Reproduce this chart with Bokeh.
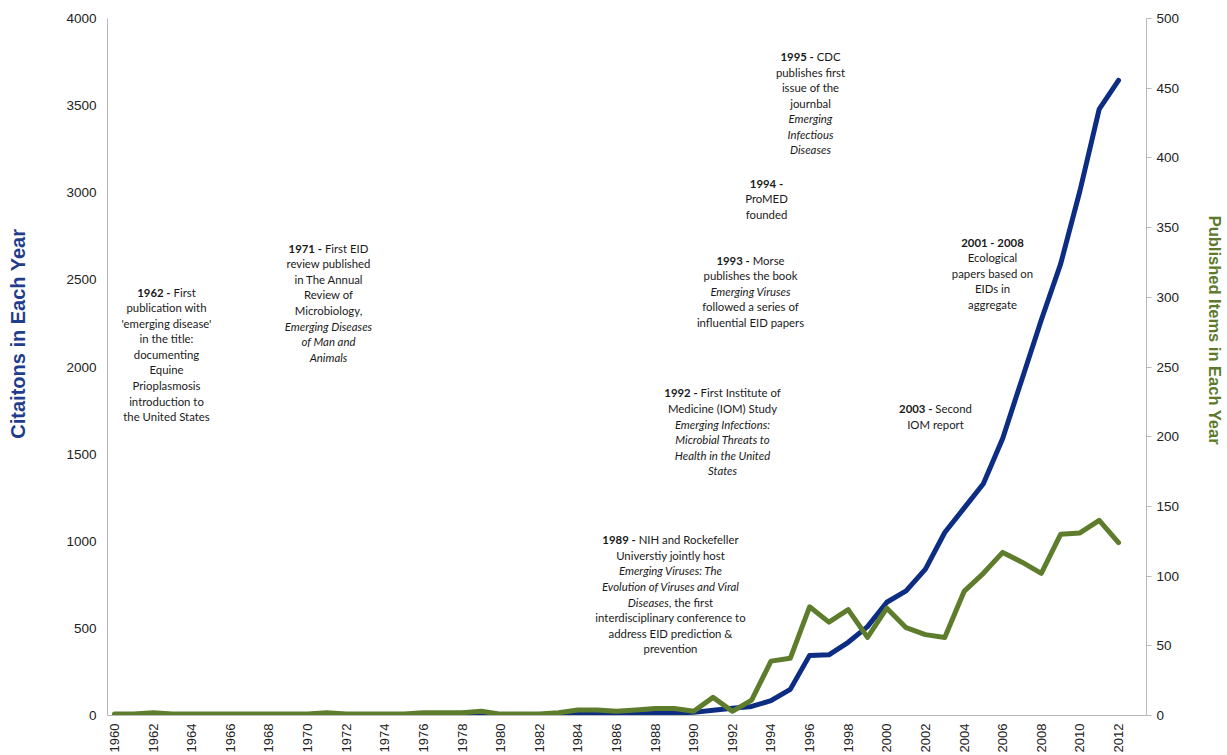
import glob, os, math
from bokeh.plotting import figure
from bokeh.models import Range1d, LinearAxis, FixedTicker, ColumnDataSource
from bokeh.core.properties import value
from bokeh.embed import file_html
from bokeh.resources import INLINE

# ---------------- data ----------------
years = list(range(1960, 2013))
citations = [1, 1, 2, 1, 1, 1, 2, 1, 1, 1,
             1, 2, 1, 1, 1, 2, 2, 2, 3, 2,
             3, 3, 5, 4, 6, 8, 8, 10, 12, 14,
             18, 30, 42, 52, 85, 150, 345, 348, 420, 510,
             650, 715, 840, 1050, 1190, 1330, 1590, 1930, 2270, 2590,
             3010, 3480, 3645]
published = [1, 1, 2, 1, 1, 1, 1, 1, 1, 1,
             1, 2, 1, 1, 1, 1, 2, 2, 2, 3,
             1, 1, 1, 2, 4, 4, 3, 4, 5, 5,
             3, 13, 3, 11, 39, 41, 78, 67, 76, 56,
             77, 63, 58, 56, 89, 102, 117, 110, 102, 130,
             131, 140, 124]
x_ticks = list(range(1960, 2013, 2))
left_ticks = [0, 500, 1000, 1500, 2000, 2500, 3000, 3500, 4000]
right_ticks = [0, 50, 100, 150, 200, 250, 300, 350, 400, 450, 500]
left_title = "Citaitons in Each Year"
right_title = "Published Items in Each Year"

# annotation blocks: (center px x, first line px y, lines of segments (text, style))
B, N, I = "bold", "normal", "italic"
annotations = [
    (166, 292, [[("1962 -", B), (" First", N)], [("publication with", N)],
                [("'emerging disease'", N)], [("in the title:", N)], [("documenting", N)],
                [("Equine", N)], [("Prioplasmosis", N)], [("introduction to", N)],
                [("the United States", N)]]),
    (328, 248, [[("1971 -", B), (" First EID", N)], [("review published", N)],
                [("in The Annual", N)], [("Review of", N)], [("Microbiology,", N)],
                [("Emerging Diseases", I)], [("of Man and", I)], [("Animals", I)]]),
    (670, 540, [[("1989 -", B), (" NIH and Rockefeller", N)], [("Universtiy jointly host", N)],
                [("Emerging Viruses: The", I)], [("Evolution of Viruses and Viral", I)],
                [("Diseases", I), (", the first", N)], [("interdisciplinary conference to", N)],
                [("address EID prediction &", N)], [("prevention", N)]]),
    (722, 393, [[("1992 -", B), (" First Institute of", N)], [("Medicine (IOM) Study", N)],
                [("Emerging Infections:", I)], [("Microbial Threats to", I)],
                [("Health in the United", I)], [("States", I)]]),
    (750, 260, [[("1993 -", B), (" Morse", N)], [("publishes the book", N)],
                [("Emerging Viruses", I)], [("followed a series of", N)],
                [("influential EID papers", N)]]),
    (766, 183, [[("1994 -", B)], [("ProMED", N)], [("founded", N)]]),
    (810, 56, [[("1995 -", B), (" CDC", N)], [("publishes first", N)], [("issue of the", N)],
               [("journbal", N)], [("Emerging", I)], [("Infectious", I)], [("Diseases", I)]]),
    (992, 242, [[("2001 - 2008", B)], [("Ecological", N)], [("papers based on", N)],
                [("EIDs in", N)], [("aggregate", N)]]),
    (935, 409, [[("2003 -", B), (" Second", N)], [("IOM report", N)]]),
]

# ---------------- layout ----------------
W, H = 1227, 755
BL, BR, BT, BB = 107, 81, 18, 39
FRAME_W = W - BL - BR
FRAME_TOP = BT
FRAME_BOTTOM = H - BB
PX_PER_YEAR = 19.308
X0 = 1960 - (114 - BL) / PX_PER_YEAR
X1 = X0 + FRAME_W / PX_PER_YEAR
PX_PER_UNIT = (FRAME_BOTTOM - FRAME_TOP) / 4000.0


def px_to_x(px):
    return X0 + (px - BL) / PX_PER_YEAR


def px_to_y(py):
    return (FRAME_BOTTOM - py) / PX_PER_UNIT


# ---------------- font measuring ----------------
def find_font(name):
    for root in ["/usr/share/fonts", "/usr/local/share/fonts", os.path.expanduser("~/.fonts")]:
        hits = glob.glob(os.path.join(root, "**", name), recursive=True)
        if hits:
            return hits[0]
    return None


fonts = {}
try:
    from PIL import ImageFont
    for st, fn in [(N, "Lato-Regular.ttf"), (B, "Lato-Bold.ttf"), (I, "Lato-Italic.ttf")]:
        path = find_font(fn)
        if path:
            fonts[st] = ImageFont.truetype(path, 100)
except Exception:
    fonts = {}


def text_width(txt, style, size):
    f = fonts.get(style)
    if f is not None:
        return f.getlength(txt) * size / 100.0
    return len(txt) * 0.5 * size * (1.06 if style == B else 1.0)


FS = 12.5
if N in fonts:
    FS = 80.0 / (fonts[N].getlength("publication with") / 100.0)
    FS = max(10.5, min(14.0, FS))
LINE_STEP = 15.6

seg = {N: dict(x=[], y=[], text=[]), B: dict(x=[], y=[], text=[]), I: dict(x=[], y=[], text=[])}
for cx, cy, lines in annotations:
    for li, line in enumerate(lines):
        total = sum(text_width(t, s, FS) for t, s in line)
        cur = cx - total / 2.0
        py = cy + li * LINE_STEP
        for t, s in line:
            lead = len(t) - len(t.lstrip(" "))
            stripped = t.strip(" ")
            lead_w = text_width(" " * lead, s, FS) if lead else 0.0
            seg[s]["x"].append(px_to_x(cur + lead_w))
            seg[s]["y"].append(px_to_y(py))
            seg[s]["text"].append(stripped)
            cur += text_width(t, s, FS)

# ---------------- figure ----------------
p = figure(width=W, height=H, output_backend="svg", toolbar_location=None,
           x_range=Range1d(X0, X1), y_range=Range1d(0, 4000),
           min_border_left=BL, min_border_right=BR, min_border_top=BT, min_border_bottom=BB)
p.outline_line_color = None
p.xgrid.visible = False
p.ygrid.visible = False
p.background_fill_color = "white"

AX_COL = "#b8b8b8"
TICK_FONT = "Liberation Sans"
NBSP = "\u00a0"

xa = p.xaxis[0]
xa.ticker = FixedTicker(ticks=x_ticks)
xa.major_label_orientation = math.pi / 2
xa.major_label_text_font = TICK_FONT
xa.major_label_text_font_size = "13px"
xa.major_label_text_color = "#222222"
xa.major_tick_line_color = None
xa.major_tick_out = 0
xa.major_tick_in = 0
xa.minor_tick_line_color = None
xa.minor_tick_out = 0
xa.axis_line_color = AX_COL
xa.major_label_standoff = 8

ya = p.yaxis[0]
ya.ticker = FixedTicker(ticks=left_ticks)
ya.major_label_text_font = TICK_FONT
ya.major_label_text_font_size = "13.5px"
ya.major_label_text_color = "#222222"
ya.major_tick_line_color = None
ya.major_tick_out = 0
ya.major_tick_in = 0
ya.minor_tick_line_color = None
ya.minor_tick_out = 0
ya.axis_line_color = AX_COL
ya.major_label_standoff = 11
# padding shifts the centred title towards the top, as in the original
ya.axis_label = NBSP * 12 + left_title
ya.axis_label_text_font = "Liberation Sans"
ya.axis_label_text_font_size = "20px"
ya.axis_label_text_font_style = "bold"
ya.axis_label_text_color = "#1F3D8C"
ya.axis_label_standoff = 34

p.extra_y_ranges = {"pub": Range1d(0, 500)}
ra = LinearAxis(y_range_name="pub", ticker=FixedTicker(ticks=right_ticks))
ra.major_label_text_font = TICK_FONT
ra.major_label_text_font_size = "13.5px"
ra.major_label_text_color = "#222222"
ra.major_tick_line_color = AX_COL
ra.major_tick_in = 0
ra.major_tick_out = 5
ra.minor_tick_line_color = None
ra.minor_tick_out = 0
ra.axis_line_color = AX_COL
ra.major_label_standoff = 5
ra.axis_label = right_title + NBSP * 16
ra.axis_label_text_font = "Liberation Sans"
ra.axis_label_text_font_size = "16.5px"
ra.axis_label_text_font_style = "bold"
ra.axis_label_text_color = "#5C7A2A"
ra.axis_label_standoff = 24
p.add_layout(ra, "right")

# lines
p.line(years, citations, line_width=5, line_color="#0C2D83", line_join="round", line_cap="round")
p.line(years, published, y_range_name="pub", line_width=5, line_color="#5E7D2C",
       line_join="round", line_cap="round")

# annotations
for st in (N, B, I):
    src = ColumnDataSource(seg[st])
    p.text(x="x", y="y", text="text", source=src, text_font=value("Lato"),
           text_font_size=f"{FS:.2f}px", text_font_style=st, text_color="#1a1a1a",
           text_align="left", text_baseline="middle")

open("out.html", "w").write(file_html(p, INLINE))
